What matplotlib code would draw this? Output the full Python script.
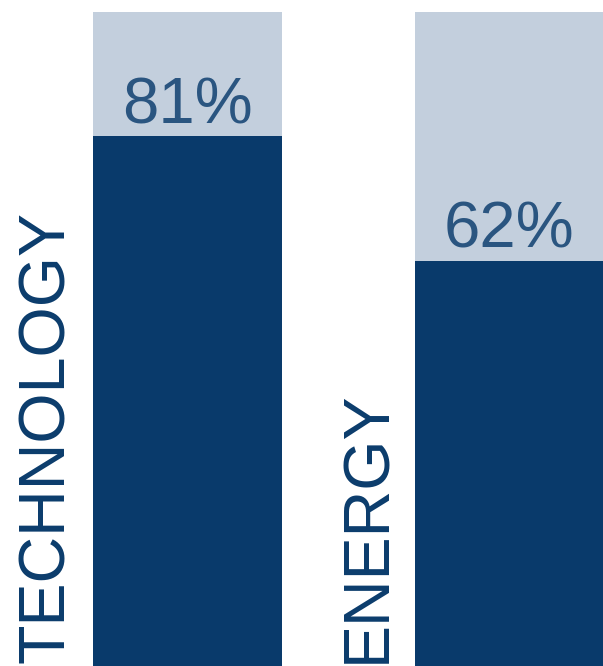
#!/usr/bin/env python3
"""Two sector bars: dark share over a pale 100% track, labels on the side."""

import matplotlib

matplotlib.use("Agg")
import matplotlib.pyplot as plt  # noqa: E402

SECTORS = ["TECHNOLOGY", "ENERGY"]
SHARES = [81, 62]
TRACK = [100, 100]
SHARE_LABELS = ["81%", "62%"]

DARK = "#093a6b"
PALE = "#c3cfdd"
TEXT = "#0b3c6c"
PCT_TEXT = "#2a5580"

plt.rcParams["font.family"] = ["Liberation Sans", "DejaVu Sans"]

fig = plt.figure(figsize=(6.03, 6.66), dpi=100)
ax = fig.add_axes([0, 0, 1, 1])

pos = list(range(len(SECTORS)))
width = 0.588
ax.bar(pos, TRACK, width=width, color=PALE, linewidth=0)
ax.bar(pos, SHARES, width=width, color=DARK, linewidth=0)

for x, share, lab, name in zip(pos, SHARES, SHARE_LABELS, SECTORS):
    ax.annotate(lab, xy=(x, share), xytext=(0, 13), textcoords="offset pixels",
                ha="center", va="baseline", fontsize=47, color=PCT_TEXT)
    # sector name runs up the left side of its bar
    ax.annotate(name, xy=(x - width / 2, 0.2), xytext=(-16, 3),
                textcoords="offset pixels", rotation=90, ha="right",
                va="bottom", fontsize=46.5, color=TEXT,
                annotation_clip=False)

ax.set_xlim(-0.583, 1.292)
ax.set_ylim(0.2, 101.8)
ax.axis("off")

fig.savefig("out.png", dpi=100, facecolor="white")
